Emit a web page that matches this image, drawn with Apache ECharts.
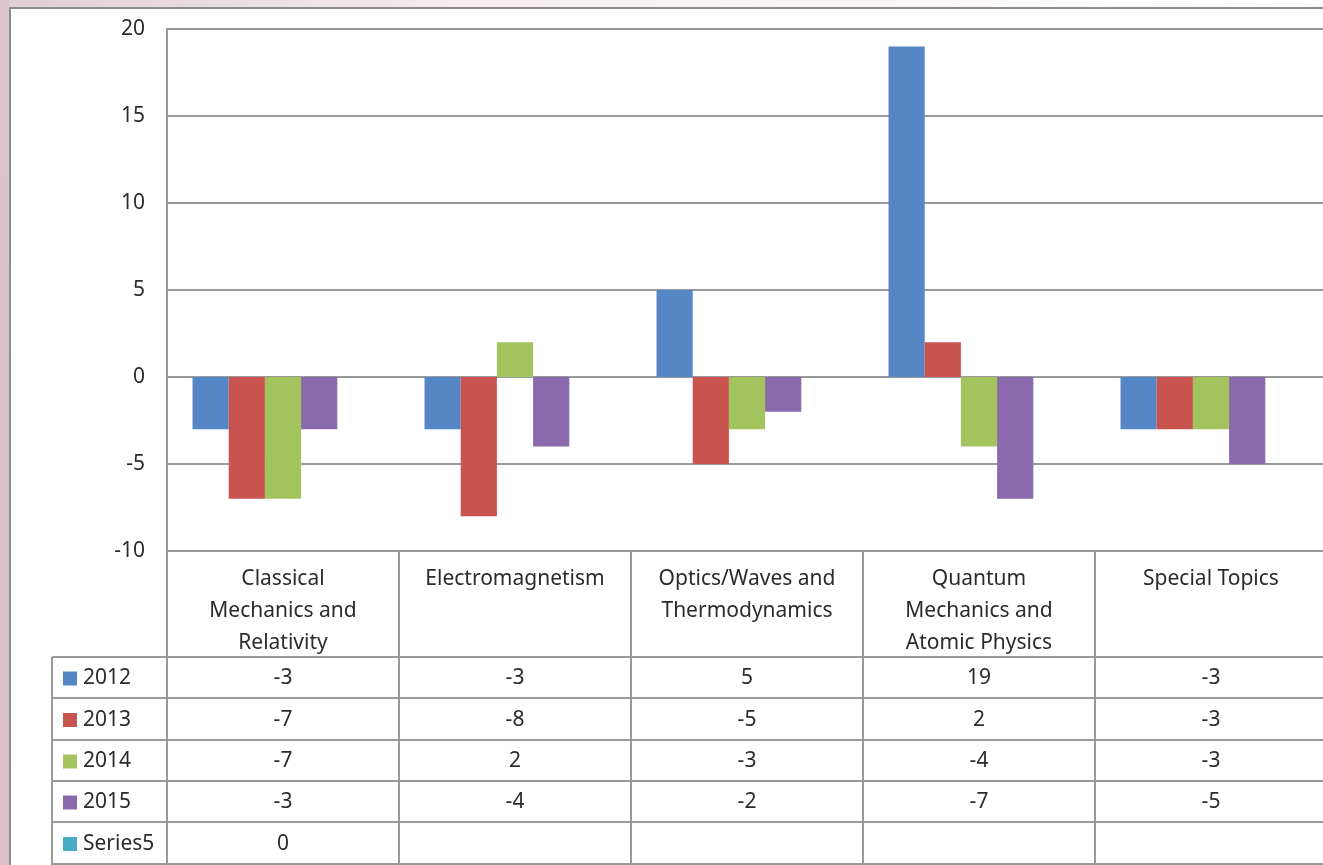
<!DOCTYPE html>
<html>
<head>
<meta charset="utf-8">
<script src="https://cdn.jsdelivr.net/npm/echarts@6/dist/echarts.min.js"></script>
<style>
  html, body { margin: 0; padding: 0; background: #fff; }
  #chart { width: 1323px; height: 865px; }
</style>
</head>
<body>
<div id="chart"></div>
<script>
// Course categories and their wrapped header text
const categories = ['Classical Mechanics and Relativity', 'Electromagnetism', 'Optics/Waves and Thermodynamics', 'Quantum Mechanics and Atomic Physics', 'Special Topics'];
const categoryLines = ['Classical\nMechanics and\nRelativity', 'Electromagnetism', 'Optics/Waves and\nThermodynamics', 'Quantum\nMechanics and\nAtomic Physics', 'Special Topics'];

// Yearly series
const seriesNames = ['2012', '2013', '2014', '2015', 'Series5'];
const values2012 = [-3, -3, 5, 19, -3];
const values2013 = [-7, -8, -5, 2, -3];
const values2014 = [-7, 2, -3, -4, -3];
const values2015 = [-3, -4, -2, -7, -5];
const valuesSeries5 = [0, null, null, null, null];
const seriesValues = [values2012, values2013, values2014, values2015, valuesSeries5];
const seriesColors = ['#5587C6', '#C9534F', '#A2C35E', '#8A6AAC', '#4BACC6'];

// Value axis range
const yMin = -10, yMax = 20, yStep = 5;

const FONT = 'Noto Sans';
const TEXT = '#2b2b2b';
const LINE = '#9a9a9a';

const chart = echarts.init(document.getElementById('chart'), null, { renderer: 'canvas' });

chart.setOption({
  animation: false,
  backgroundColor: '#fff',
  grid: {
    left: 167, top: 29, width: 1160, height: 522,
    outerBoundsMode: 'none', containLabel: false,
    show: true, borderColor: LINE, borderWidth: 2, backgroundColor: 'transparent'
  },
  xAxis: {
    type: 'category',
    data: categories,
    axisLine: { onZero: false, lineStyle: { color: LINE, width: 2 } },
    axisTick: { show: false },
    axisLabel: {
      interval: 0,
      margin: 12,
      fontFamily: FONT,
      fontSize: 21,
      lineHeight: 32,
      color: TEXT,
      formatter: (v, i) => categoryLines[i]
    }
  },
  yAxis: {
    type: 'value',
    min: yMin,
    max: yMax,
    interval: yStep,
    axisLine: { show: true, lineStyle: { color: LINE, width: 2 } },
    axisTick: { show: false },
    splitLine: { lineStyle: { color: LINE, width: 2 } },
    axisLabel: { margin: 22, fontFamily: FONT, fontSize: 21, color: TEXT }
  },
  series: seriesNames.map((name, k) => ({
    name: name,
    type: 'bar',
    data: seriesValues[k],
    barGap: '0%',
    barCategoryGap: '22%',
    itemStyle: { color: seriesColors[k] }
  }))
});

// Data table under the plot, built from the same arrays
const rowEdges = [657, 698, 740, 781, 822, 864];
const headerTop = 551;
const tableLeft = 52;
const centers = categories.map((c, i) => chart.convertToPixel({ xAxisIndex: 0 }, i));
const band = centers[1] - centers[0];
const colEdges = centers.map(c => c - band / 2).concat([centers[centers.length - 1] + band / 2]);

const g = [];
// page edge tint and outer frame
g.push({ type: 'rect', shape: { x: 0, y: 0, width: 1323, height: 7 }, style: { fill: new echarts.graphic.LinearGradient(0, 0, 1, 0, [{ offset: 0, color: '#e2ced5' }, { offset: 0.35, color: '#f5edf0' }, { offset: 1, color: '#ffffff' }]) }, silent: true });
g.push({ type: 'rect', shape: { x: 0, y: 0, width: 9, height: 865 }, style: { fill: new echarts.graphic.LinearGradient(0, 0, 0, 1, [{ offset: 0, color: '#dcc5cd' }, { offset: 1, color: '#d9c0c9' }]) }, silent: true });
g.push({ type: 'polyline', shape: { points: [[10, 865], [10, 8], [1323, 8]] }, style: { stroke: '#8c8c8c', lineWidth: 2, fill: null }, silent: true });

// vertical table rules
colEdges.forEach((x, i) => {
  g.push({ type: 'line', shape: { x1: x, y1: headerTop, x2: x, y2: 865 }, style: { stroke: LINE, lineWidth: 2 }, silent: true });
});
g.push({ type: 'line', shape: { x1: tableLeft, y1: rowEdges[0], x2: tableLeft, y2: 865 }, style: { stroke: LINE, lineWidth: 2 }, silent: true });
// horizontal table rules
rowEdges.forEach(y => {
  g.push({ type: 'line', shape: { x1: tableLeft, y1: y, x2: 1323, y2: y }, style: { stroke: LINE, lineWidth: 2 }, silent: true });
});

// row legend keys and cell values
seriesNames.forEach((name, k) => {
  const yc = (rowEdges[k] + rowEdges[k + 1]) / 2 + 1;
  g.push({ type: 'rect', shape: { x: 63, y: yc - 7, width: 14, height: 14 }, style: { fill: seriesColors[k] }, silent: true });
  g.push({ type: 'text', x: 83, y: yc, style: { text: name, fontFamily: FONT, fontSize: 21, fill: TEXT, textAlign: 'left', textVerticalAlign: 'middle' }, silent: true });
  seriesValues[k].forEach((v, i) => {
    if (v === null) return;
    g.push({ type: 'text', x: centers[i], y: yc, style: { text: String(v), fontFamily: FONT, fontSize: 21, fill: TEXT, textAlign: 'center', textVerticalAlign: 'middle' }, silent: true });
  });
});

chart.setOption({ graphic: g });
</script>
</body>
</html>
